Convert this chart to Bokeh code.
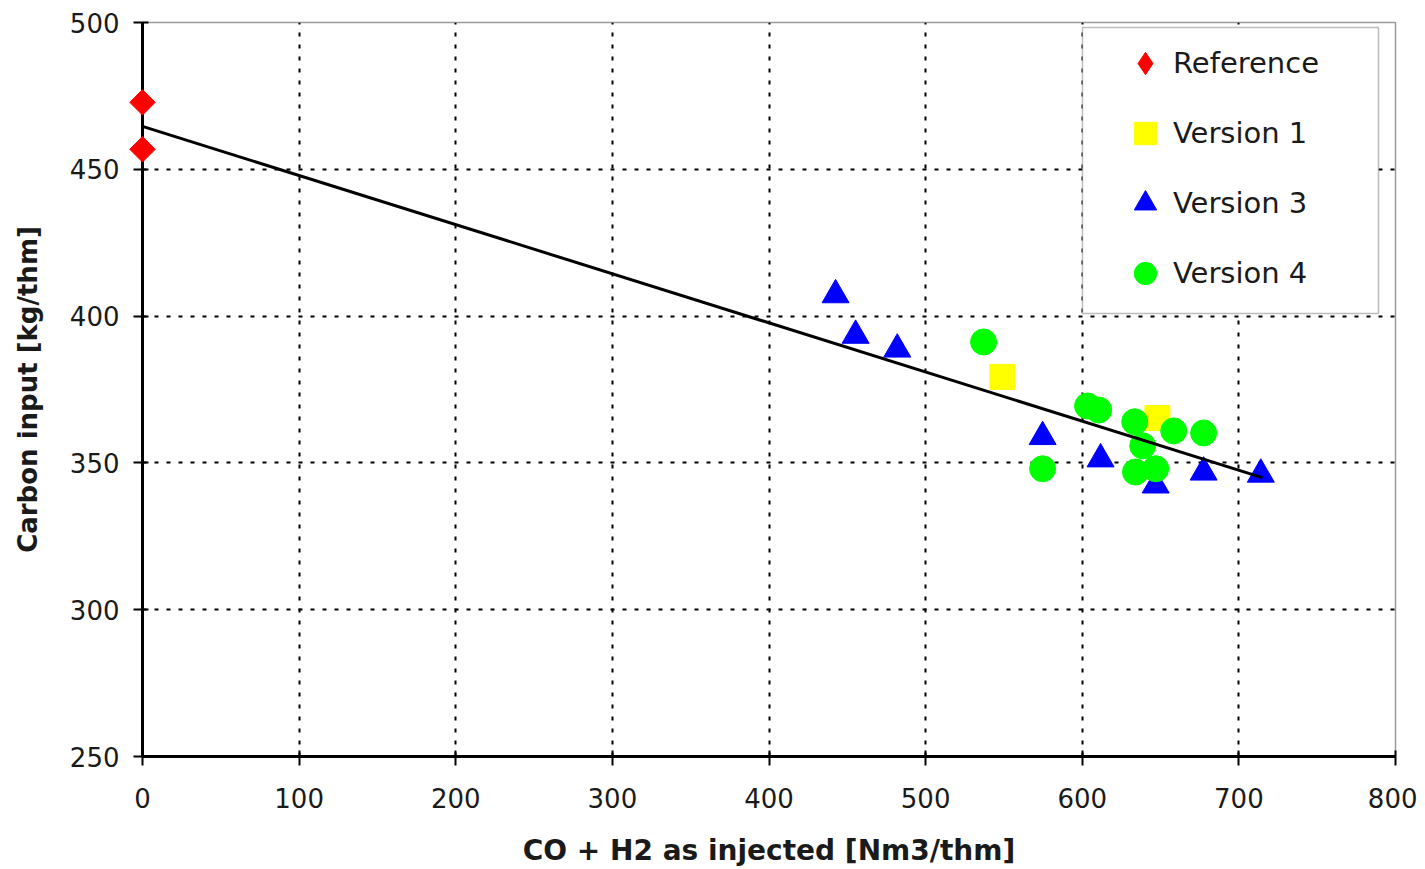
import math
from bokeh.plotting import figure
from bokeh.models import FixedTicker, Legend, LegendItem, Range1d, BoxAnnotation
from bokeh.embed import file_html
from bokeh.resources import INLINE

# ---- data ----
ref_x = [0, 0]
ref_y = [472.8, 456.8]

v1_x = [549, 648]
v1_y = [379.3, 365.3]

v3_x = [442.5, 455.3, 481.9, 574.7, 611.7, 646.9, 677.5, 714.0]
v3_y = [407.2, 393.4, 388.7, 358.9, 351.3, 342.4, 346.8, 346.1]

v4_x = [537, 574.7, 603.4, 610.5, 633.5, 638.6, 634.0, 646.9, 658.4, 677.5]
v4_y = [391.2, 348.0, 369.4, 368.0, 364.0, 355.8, 346.9, 348.0, 360.9, 360.2]

trend_x = [0, 715]
trend_y = [464.6, 345.0]

x_ticks = [0, 100, 200, 300, 400, 500, 600, 700, 800]
y_ticks = [250, 300, 350, 400, 450, 500]

FONT = "DejaVu Sans"

p = figure(width=1417, height=869, output_backend="svg", toolbar_location=None,
           x_range=Range1d(0, 800), y_range=Range1d(250, 500),
           min_border_left=142, min_border_right=22, min_border_top=22, min_border_bottom=112)

p.background_fill_color = "white"
p.border_fill_color = "white"
p.outline_line_color = "#9a9a9a"
p.outline_line_width = 1.5

# grids
p.xgrid.ticker = FixedTicker(ticks=x_ticks[1:-1])
p.ygrid.ticker = FixedTicker(ticks=y_ticks[1:-1])
for g in (p.xgrid, p.ygrid):
    g.grid_line_color = "black"
    g.grid_line_width = 2
    g.grid_line_dash = "4 8"

# axes
p.xaxis.ticker = FixedTicker(ticks=x_ticks)
p.yaxis.ticker = FixedTicker(ticks=y_ticks)
for ax in (p.xaxis, p.yaxis):
    ax.axis_line_color = "black"
    ax.axis_line_width = 3
    ax.major_tick_line_color = "black"
    ax.major_tick_line_width = 2
    ax.major_tick_in = 6
    ax.major_tick_out = 9
    ax.minor_tick_line_color = None
    ax.major_label_text_font = FONT
    ax.major_label_text_font_size = "26px"
    ax.major_label_text_color = "#1a1a1a"
    ax.axis_label_text_font = FONT
    ax.axis_label_text_font_style = "bold"
    ax.axis_label_text_color = "#1a1a1a"

p.xaxis.axis_label = "CO + H2 as injected [Nm3/thm]"
p.yaxis.axis_label = "Carbon input [kg/thm]"
p.xaxis.axis_label_text_font_size = "28px"
p.yaxis.axis_label_text_font_size = "26px"
p.xaxis.major_label_standoff = 22
p.yaxis.major_label_standoff = 14
p.xaxis.axis_label_standoff = 23
p.yaxis.axis_label_standoff = 24

# series
r_ref = p.scatter(ref_x, ref_y, marker="square", size=18, angle=math.pi / 4,
                  fill_color="#ff0000", line_color="#ff0000", level="overlay")
r_ref_leg = p.scatter(ref_x, ref_y, marker="diamond", size=26,
                      fill_color="#ff0000", line_color="#ff0000", visible=False)
r_v1 = p.scatter(v1_x, v1_y, marker="square", size=25,
                 fill_color="#ffff00", line_color="#ffff00")
r_v3 = p.scatter(v3_x, v3_y, marker="triangle", size=27,
                 fill_color="#0000ff", line_color="#0000ff")
r_v4 = p.scatter(v4_x, v4_y, marker="circle", size=26,
                 fill_color="#00ff00", line_color="#00ff00")

p.line(trend_x, trend_y, line_color="black", line_width=3)

# legend frame (canvas units)
box = BoxAnnotation(left=1082, right=1378, top=27, bottom=313,
                    left_units="canvas", right_units="canvas",
                    top_units="canvas", bottom_units="canvas",
                    fill_color="white", fill_alpha=1.0,
                    line_color="#222222", line_width=1.5)
p.add_layout(box)

legend = Legend(items=[
    LegendItem(label="Reference", renderers=[r_ref_leg]),
    LegendItem(label="Version 1", renderers=[r_v1]),
    LegendItem(label="Version 3", renderers=[r_v3]),
    LegendItem(label="Version 4", renderers=[r_v4]),
], location=(975, 455))
legend.margin = 0
legend.padding = 0
legend.glyph_width = 56
legend.glyph_height = 56
legend.spacing = 14
legend.label_standoff = 0
legend.label_text_font = FONT
legend.label_text_font_size = "29px"
legend.label_text_color = "#1a1a1a"
legend.border_line_color = None
legend.background_fill_alpha = 0.0
p.add_layout(legend)

open("out.html", "w").write(file_html(p, INLINE))
